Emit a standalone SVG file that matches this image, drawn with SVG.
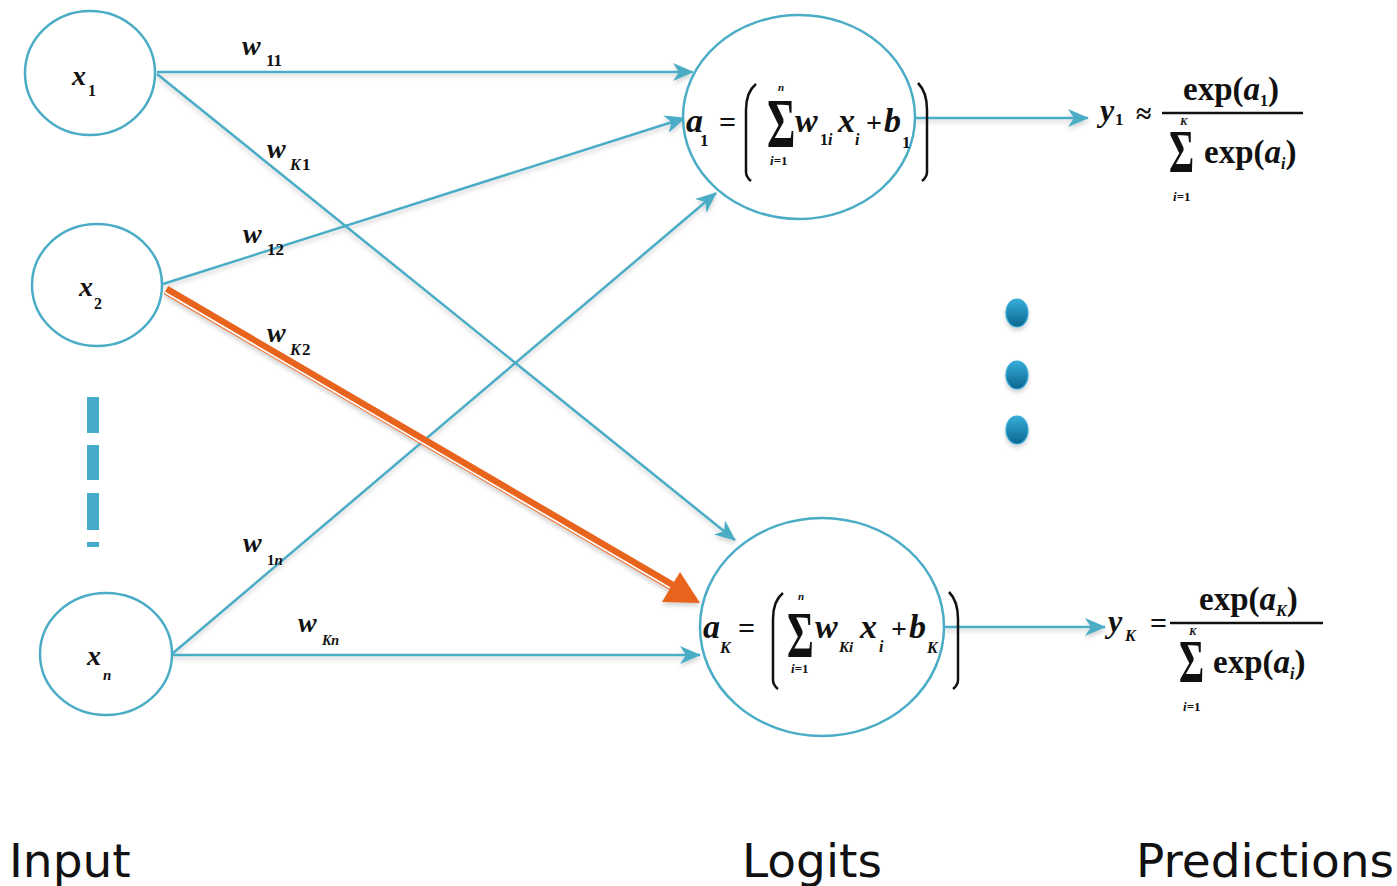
<svg xmlns="http://www.w3.org/2000/svg" width="1397" height="886" viewBox="0 0 1397 886">
<defs>
<style>
.node{fill:#fff;stroke:#4bacc6;stroke-width:2.5}
.edge{stroke:#4bacc6;stroke-width:2.5;fill:none}
.m{font-family:"Liberation Serif",serif;font-weight:bold;fill:#111}
.i{font-style:italic}
.lbl{font-family:"DejaVu Sans",sans-serif;font-size:47px;fill:#111}
.paren{stroke:#111;stroke-width:2.5;fill:none}
.dots{fill:url(#dg);stroke:#36a9d6;stroke-width:1.2}
</style>
<marker id="ah" markerUnits="userSpaceOnUse" markerWidth="22" markerHeight="18" refX="20" refY="9" orient="auto">
<path d="M0,0 L21,9 L0,18 L6,9 z" fill="#4bacc6"/>
</marker>
<linearGradient id="dg" x1="0" y1="0" x2="0" y2="1">
<stop offset="0" stop-color="#37acd9"/>
<stop offset="1" stop-color="#0a6790"/>
</linearGradient>
<filter id="sh" x="-10%" y="-10%" width="120%" height="130%">
<feDropShadow dx="0" dy="3" stdDeviation="2" flood-color="#000" flood-opacity="0.18"/>
</filter>
</defs>
<rect width="1397" height="886" fill="#fff"/>

<g id="connectors" filter="url(#sh)">
<line class="edge" x1="157" y1="72" x2="693" y2="72" marker-end="url(#ah)"/>
<line class="edge" x1="157" y1="74" x2="735" y2="540" marker-end="url(#ah)"/>
<line class="edge" x1="163" y1="284" x2="685" y2="118" marker-end="url(#ah)"/>
<line class="edge" x1="172" y1="654" x2="716" y2="193" marker-end="url(#ah)"/>
<line class="edge" x1="172" y1="655" x2="700" y2="655" marker-end="url(#ah)"/>
<line class="edge" x1="915" y1="118" x2="1088" y2="118" marker-end="url(#ah)"/>
<line class="edge" x1="944" y1="627" x2="1105" y2="627" marker-end="url(#ah)"/>
<g id="orange-edge">
<line x1="166" y1="290" x2="672" y2="586" stroke="#e8641e" stroke-width="9"/>
<line x1="165" y1="292.5" x2="670" y2="588" stroke="#fff" stroke-width="1.8"/>
<polygon points="700,603 680,572 662,602" fill="#e8641e"/>
</g>
</g>

<g id="x1">
<ellipse class="node" cx="90" cy="73" rx="65" ry="62"/>
<text class="m i" x="72" y="85" font-size="28">x</text>
<text class="m" x="88" y="96" font-size="16">1</text>
</g>
<g id="x2">
<ellipse class="node" cx="97" cy="285" rx="65" ry="61"/>
<text class="m i" x="79" y="296" font-size="28">x</text>
<text class="m" x="94" y="309" font-size="16">2</text>
</g>
<g id="xn">
<ellipse class="node" cx="106" cy="654" rx="66" ry="61"/>
<text class="m i" x="87" y="665" font-size="28">x</text>
<text class="m i" x="103" y="680" font-size="15">n</text>
</g>

<g id="input-ellipsis" fill="#45a9c8">
<rect x="87" y="397" width="12" height="36"/>
<rect x="87" y="445" width="12" height="35"/>
<rect x="87" y="493" width="12" height="37"/>
<rect x="87" y="542" width="12" height="5"/>
</g>

<g id="weight-labels">
<text class="m i" x="242" y="55" font-size="28">w</text><text class="m" x="266" y="66" font-size="17">11</text>
<text class="m i" x="267" y="158" font-size="28">w</text><text class="m i" x="290" y="170" font-size="16">K</text><text class="m" x="302" y="170" font-size="17">1</text>
<text class="m i" x="243" y="243" font-size="28">w</text><text class="m" x="267" y="255" font-size="17">12</text>
<text class="m i" x="267" y="342" font-size="28">w</text><text class="m i" x="290" y="355" font-size="16">K</text><text class="m" x="302" y="355" font-size="17">2</text>
<text class="m i" x="243" y="552" font-size="28">w</text><text class="m" x="267" y="565" font-size="15">1<tspan class="i">n</tspan></text>
<text class="m i" x="298" y="632" font-size="28">w</text><text class="m i" x="322" y="645" font-size="14">Kn</text>
</g>

<g id="a1">
<ellipse class="node" cx="799" cy="117" rx="116" ry="102" fill="none"/>
<text class="m i" x="686" y="132" font-size="34">a</text>
<text class="m" x="700" y="146" font-size="17">1</text>
<text class="m" x="719" y="132" font-size="30">=</text>
<path class="paren" d="M756,84 Q746,92 746,110 L746,172 Q746,177 751,181"/>
<text class="m" transform="translate(767,147) scale(0.62,1)" font-size="70">Σ</text>
<text class="m i" x="778" y="91" font-size="11">n</text>
<text class="m" x="770" y="165" font-size="13"><tspan class="i">i</tspan>=1</text>
<text class="m i" x="795" y="132" font-size="34">w</text>
<text class="m" x="820" y="145" font-size="16">1<tspan class="i">i</tspan></text>
<text class="m i" x="838" y="132" font-size="34">x</text>
<text class="m i" x="855" y="145" font-size="16">i</text>
<text class="m" x="866" y="132" font-size="28">+</text>
<text class="m i" x="884" y="132" font-size="34">b</text>
<text class="m" x="902" y="148" font-size="17">1</text>
<path class="paren" d="M918,83 Q927,92 927,110 L927,172 Q927,177 922,181"/>
</g>

<g id="aK">
<ellipse class="node" cx="822" cy="627" rx="122" ry="109" fill="none"/>
<text class="m i" x="703" y="638" font-size="34">a</text>
<text class="m i" x="720" y="653" font-size="16">K</text>
<text class="m" x="738" y="638" font-size="30">=</text>
<path class="paren" d="M783,593 Q773,601 773,619 L773,680 Q773,685 778,689"/>
<text class="m" transform="translate(787,657) scale(0.62,1)" font-size="66">Σ</text>
<text class="m i" x="798" y="600" font-size="11">n</text>
<text class="m" x="791" y="673" font-size="13"><tspan class="i">i</tspan>=1</text>
<text class="m i" x="815" y="638" font-size="34">w</text>
<text class="m i" x="839" y="652" font-size="15">Ki</text>
<text class="m i" x="860" y="638" font-size="34">x</text>
<text class="m i" x="879" y="652" font-size="16">i</text>
<text class="m" x="891" y="638" font-size="28">+</text>
<text class="m i" x="909" y="638" font-size="34">b</text>
<text class="m i" x="927" y="653" font-size="16">K</text>
<path class="paren" d="M949,592 Q958,601 958,619 L958,680 Q958,685 953,689"/>
</g>

<g id="y1">
<text class="m i" x="1100" y="121" font-size="32">y</text>
<text class="m" x="1115" y="125" font-size="17">1</text>
<text class="m" x="1136" y="123" font-size="28">≈</text>
<line x1="1162" y1="113" x2="1303" y2="113" stroke="#111" stroke-width="2.5"/>
<text class="m" x="1183" y="100" font-size="33">exp(<tspan class="i">a</tspan><tspan font-size="16" dy="6">1</tspan><tspan dy="-6">)</tspan></text>
<text class="m i" x="1180" y="125" font-size="11">K</text>
<text class="m" transform="translate(1169,172) scale(0.62,1)" font-size="62">Σ</text>
<text class="m" x="1173" y="201" font-size="13"><tspan class="i">i</tspan>=1</text>
<text class="m" x="1204" y="163" font-size="33">exp(<tspan class="i">a</tspan><tspan class="i" font-size="16" dy="6">i</tspan><tspan dy="-6">)</tspan></text>
</g>

<g id="yK">
<text class="m i" x="1108" y="632" font-size="32">y</text>
<text class="m i" x="1125" y="641" font-size="16">K</text>
<text class="m" x="1150" y="633" font-size="30">=</text>
<line x1="1170" y1="623" x2="1323" y2="623" stroke="#111" stroke-width="2.5"/>
<text class="m" x="1199" y="610" font-size="33">exp(<tspan class="i">a</tspan><tspan class="i" font-size="16" dy="6">K</tspan><tspan dy="-6">)</tspan></text>
<text class="m i" x="1189" y="635" font-size="11">K</text>
<text class="m" transform="translate(1179,682) scale(0.62,1)" font-size="62">Σ</text>
<text class="m" x="1183" y="711" font-size="13"><tspan class="i">i</tspan>=1</text>
<text class="m" x="1213" y="673" font-size="33">exp(<tspan class="i">a</tspan><tspan class="i" font-size="16" dy="6">i</tspan><tspan dy="-6">)</tspan></text>
</g>

<g id="logit-ellipsis" filter="url(#sh)">
<ellipse class="dots" cx="1017" cy="313" rx="11" ry="14"/>
<ellipse class="dots" cx="1017" cy="375" rx="11" ry="14"/>
<ellipse class="dots" cx="1017" cy="430" rx="11" ry="14"/>
</g>

<g id="captions">
<text class="lbl" x="9" y="877">Input</text>
<text class="lbl" x="742" y="877">Logits</text>
<text class="lbl" x="1136" y="877">Predictions</text>
</g>
</svg>
